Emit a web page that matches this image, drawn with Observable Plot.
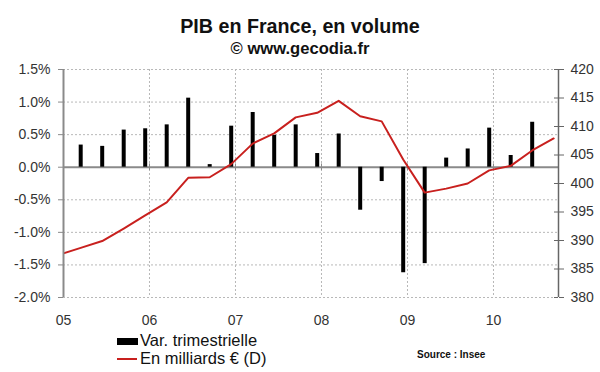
<!DOCTYPE html>
<html>
<head>
<meta charset="utf-8">
<script src="https://cdn.jsdelivr.net/npm/d3@7"></script>
<script src="https://cdn.jsdelivr.net/npm/@observablehq/plot@0.6"></script>
<style>
  html, body { margin: 0; padding: 0; background: #fff; }
  #wrap { position: relative; width: 600px; height: 372px; font-family: "Liberation Sans", Arial, sans-serif; color: #111; overflow: hidden; }
  #wrap svg { position: absolute; left: 0; top: 0; }
  .title { position: absolute; left: 0; width: 600px; text-align: center; font-weight: bold; white-space: nowrap; }
  .t1 { top: 16.6px; font-size: 19.7px; line-height: 19.7px; }
  .t2 { top: 41px; font-size: 16.6px; line-height: 16.6px; }
  .leg { position: absolute; left: 140px; font-size: 16.5px; line-height: 16.5px; white-space: nowrap; color: #111; }
  .sw { position: absolute; }
  .src { position: absolute; left: 417px; top: 349.5px; font-size: 10px; line-height: 10px; font-weight: bold; color: #111; }
</style>
</head>
<body>
<div id="wrap">
  <div class="title t1">PIB en France, en volume</div>
  <div class="title t2">© www.gecodia.fr</div>
  <div id="chart"></div>
  <div class="sw" style="left:117px;top:338px;width:21px;height:7px;background:#000"></div>
  <div class="leg" style="top:331.8px">Var. trimestrielle</div>
  <div class="sw" style="left:117px;top:357.5px;width:20px;height:2px;background:#c8201e"></div>
  <div class="leg" style="top:350.4px">En milliards € (D)</div>
  <div class="src">Source : Insee</div>
</div>
<script>
// Quarters (T = trimestre)
const quarters = ["2004T4",
  "2005T1","2005T2","2005T3","2005T4",
  "2006T1","2006T2","2006T3","2006T4",
  "2007T1","2007T2","2007T3","2007T4",
  "2008T1","2008T2","2008T3","2008T4",
  "2009T1","2009T2","2009T3","2009T4",
  "2010T1","2010T2","2010T3"];
// Quarterly change, % (left axis)
const varTrim = [null,
  0.34, 0.32, 0.57, 0.59,
  0.65, 1.06, 0.04, 0.63,
  0.84, 0.49, 0.65, 0.21,
  0.51, -0.66, -0.22, -1.62,
  -1.48, 0.14, 0.28, 0.60,
  0.18, 0.69, null];
// GDP level, billions € (right axis)
const pibMds = [387.5,
  388.7, 389.9, 392.1, 394.4,
  396.7, 401.0, 401.1, 403.4,
  407.0, 408.8, 411.6, 412.4,
  414.5, 411.8, 410.9, 404.2,
  398.4, 399.1, 400.0, 402.3,
  403.1, 405.8, 407.9];
const years = [2005, 2006, 2007, 2008, 2009, 2010];
const yearLabels = ["05", "06", "07", "08", "09", "10"];
const pctTicks = [-2, -1.5, -1, -0.5, 0, 0.5, 1, 1.5];
const mdsTicks = [380, 385, 390, 395, 400, 405, 410, 415, 420];

const xMax = 2010.756;
const pctDomain = [-2, 1.5];
const mdsDomain = [380, 420];
const toPct = v => pctDomain[0] + (v - mdsDomain[0]) * (pctDomain[1] - pctDomain[0]) / (mdsDomain[1] - mdsDomain[0]);
const fromPct = p => mdsDomain[0] + (p - pctDomain[0]) * (mdsDomain[1] - mdsDomain[0]) / (pctDomain[1] - pctDomain[0]);

const data = quarters.map((q, i) => ({
  q,
  x: +q.slice(0, 4) + (+q.slice(5) - 1) * 0.25 + 0.2,
  v: varTrim[i],
  pib: pibMds[i]
}));

const grid = "#b8b8b8";
const axisGray = "#8a8a8a";
const red = "#c8201e";

const chart = Plot.plot({
  width: 600,
  height: 372,
  marginTop: 69,
  marginBottom: 75,
  marginLeft: 63,
  marginRight: 42,
  style: { fontFamily: "Liberation Sans, Arial, sans-serif", fontSize: "14px", background: "transparent" },
  x: { type: "linear", domain: [2005, xMax] },
  y: { domain: pctDomain },
  marks: [
    Plot.ruleY(pctTicks.filter(d => d !== 0), { stroke: grid, strokeDasharray: "2,2" }),
    Plot.ruleX(years.slice(1), { stroke: grid, strokeDasharray: "2,2" }),
    Plot.ruleY([0], { stroke: axisGray, strokeWidth: 2 }),
    Plot.ruleX(years.slice(1), { y1: -0.05, y2: 0.05, stroke: axisGray, strokeWidth: 1 }),
    Plot.ruleX(data.filter(d => d.v != null), { x: "x", y1: 0, y2: "v", stroke: "#000", strokeWidth: 4 }),
    Plot.line(data, { x: "x", y: d => toPct(d.pib), stroke: red, strokeWidth: 2, clip: true }),
    Plot.ruleX([2005], { stroke: axisGray, strokeWidth: 2 }),
    Plot.ruleX([xMax], { stroke: "#666", strokeWidth: 1.5 }),
    Plot.ruleY(mdsTicks.map(toPct), { x1: xMax - 4 / 86, x2: xMax, stroke: "#666" }),
    Plot.axisY({ anchor: "left", ticks: pctTicks, tickFormat: d => d.toFixed(1) + "%", tickSize: 5, tickPadding: 8, stroke: axisGray, fill: "#333", label: null }),
    Plot.axisY({ anchor: "right", ticks: mdsTicks.map(toPct), tickFormat: p => String(Math.round(fromPct(p))), tickSize: 5, tickPadding: 7, stroke: "#666", fill: "#333", label: null }),
    Plot.axisX({ ticks: years, tickFormat: d => yearLabels[years.indexOf(d)], tickSize: 0, tickPadding: 18, fill: "#333", label: null })
  ]
});
document.getElementById("chart").appendChild(chart);
</script>
</body>
</html>
